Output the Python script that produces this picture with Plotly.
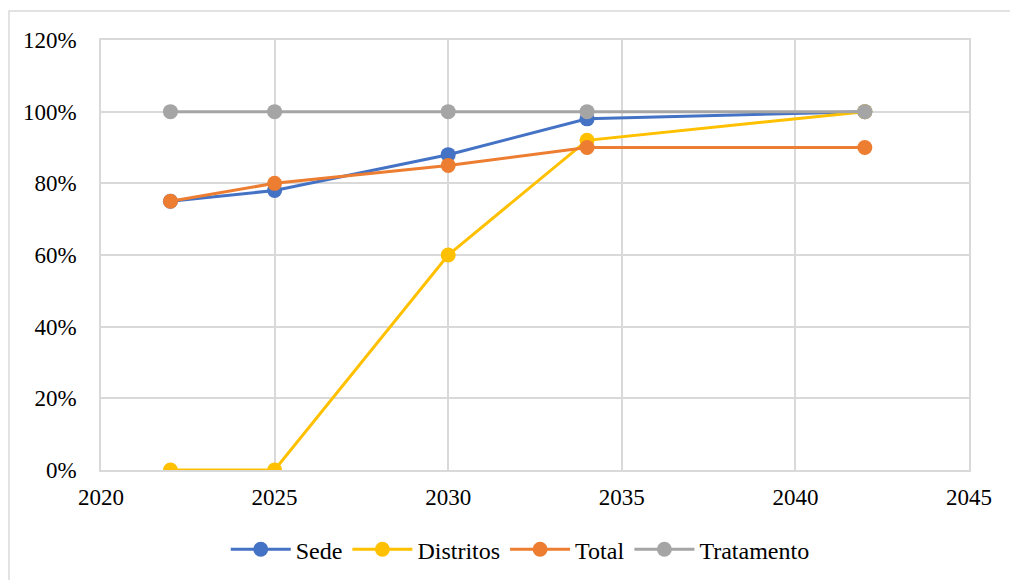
import plotly.graph_objects as go

years = [2022, 2025, 2030, 2034, 2042]
sede = [0.75, 0.78, 0.88, 0.98, 1.00]
distritos = [0.00, 0.00, 0.60, 0.92, 1.00]
total = [0.75, 0.80, 0.85, 0.90, 0.90]
tratamento = [1.00, 1.00, 1.00, 1.00, 1.00]

series = [
    ("Sede", sede, "#4472C4"),
    ("Distritos", distritos, "#FFC000"),
    ("Total", total, "#ED7D31"),
    ("Tratamento", tratamento, "#A5A5A5"),
]

FONT = "'Times New Roman', 'Liberation Serif', 'DejaVu Serif', serif"
GRID = "#D9D9D9"

fig = go.Figure()
for name, vals, color in series:
    fig.add_trace(go.Scatter(
        x=years, y=vals, name=name, mode="lines+markers",
        line=dict(color=color, width=3),
        marker=dict(color=color, size=15),
    ))

fig.update_layout(
    width=1010, height=580,
    margin=dict(l=101, r=41, t=40, b=110, autoexpand=False),
    paper_bgcolor="white", plot_bgcolor="white",
    font=dict(family=FONT, size=23, color="#000000"),
    showlegend=True,
    legend=dict(
        orientation="h", x=0.483, xanchor="center", y=-0.133, yanchor="top",
        font=dict(family=FONT, size=24), itemwidth=60,
        traceorder="normal",
    ),
    xaxis=dict(
        range=[2020, 2045], dtick=5, tick0=2020, automargin=False,
        showgrid=True, gridcolor=GRID, gridwidth=1.5,
        showline=True, linecolor=GRID, linewidth=1.5, mirror=True,
        zeroline=False, ticks="", ticklabelstandoff=6,
        tickfont=dict(family=FONT, size=23),
    ),
    yaxis=dict(
        range=[0, 1.2], dtick=0.2, tickformat=".0%", automargin=False,
        showgrid=True, gridcolor=GRID, gridwidth=1.5,
        showline=True, linecolor=GRID, linewidth=1.5, mirror=True,
        zeroline=False, ticks="", ticklabelstandoff=18,
        tickfont=dict(family=FONT, size=23),
    ),
    shapes=[dict(
        type="rect", xref="paper", yref="paper",
        x0=-0.106, x1=1.06, y0=-0.28, y1=1.0674,
        line=dict(color=GRID, width=1.5), fillcolor="rgba(0,0,0,0)",
        layer="below",
    )],
)

fig.write_html("out.html")
